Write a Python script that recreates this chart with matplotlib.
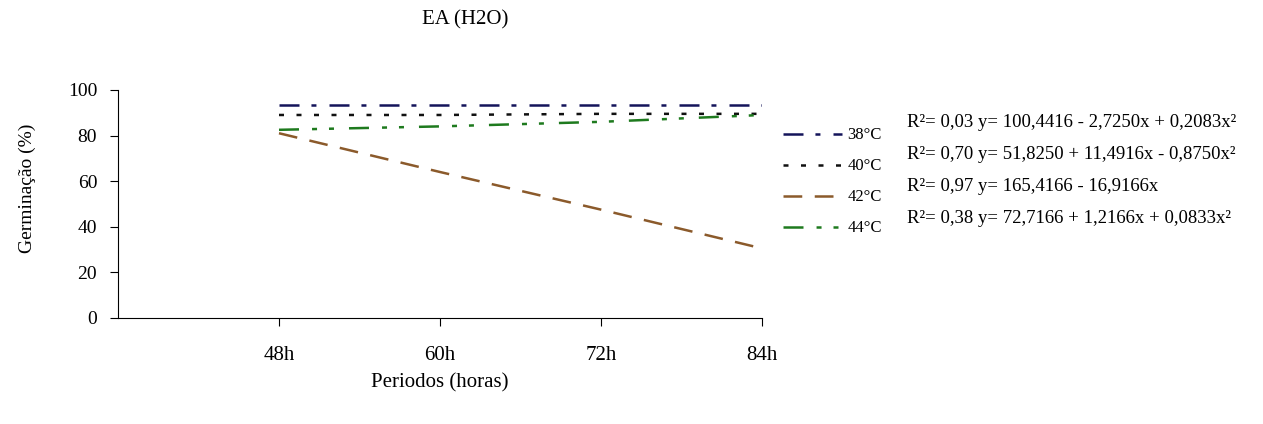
import matplotlib
matplotlib.use('Agg')
import matplotlib.pyplot as plt

# values
periods = ['48h', '60h', '72h', '84h']
series_names = ['38°C', '40°C', '42°C', '44°C']
g38 = [93.5, 93.5, 93.5, 93.5]
g40 = [89.0, 89.0, 89.5, 89.5]
g42 = [81.0, 64.0, 47.5, 30.5]
g44 = [82.5, 84.0, 86.0, 89.0]
equations = ['R\u00b2= 0,03 y= 100,4416 - 2,7250x + 0,2083x\u00b2',
             'R\u00b2= 0,70 y= 51,8250 + 11,4916x - 0,8750x\u00b2',
             'R\u00b2= 0,97 y= 165,4166 - 16,9166x',
             'R\u00b2= 0,38 y= 72,7166 + 1,2166x + 0,0833x\u00b2']

plt.rcParams['font.family'] = ['Liberation Serif', 'DejaVu Serif']
plt.rcParams['lines.scale_dashes'] = False

styles = [dict(color='#14145a', dashes=(14.4, 8.6, 3.6, 9.4)),
          dict(color='#111111', dashes=(3.6, 9.0)),
          dict(color='#8b5a2b', dashes=(13.5, 9.0)),
          dict(color='#1e7a1e', dashes=(14.4, 9.4, 3.6, 8.6, 3.6, 10.8))]

fig = plt.figure(figsize=(12.63, 4.24), dpi=100)
ax = fig.add_axes([0.0934, 0.25, 0.51, 0.538])

x = range(1, len(periods) + 1)
for vals, name, st in zip([g38, g40, g42, g44], series_names, styles):
    ax.plot(x, vals, lw=1.8, label=name, **st)

ax.set_xlim(0, 4)
ax.set_ylim(0, 100)
ax.set_xticks(list(x))
ax.set_xticklabels(periods)
ax.set_yticks(range(0, 101, 20))
ax.spines['top'].set_visible(False)
ax.spines['right'].set_visible(False)
ax.tick_params(axis='x', length=6, pad=14, labelsize=15)
ax.tick_params(axis='y', length=6, pad=9, labelsize=14)

leg = ax.legend(loc='upper left', bbox_to_anchor=(0.6137, 0.719), bbox_transform=fig.transFigure,
                frameon=False, handlelength=3.5, handletextpad=0.35, labelspacing=0.9,
                fontsize=12, borderpad=0)

for i, eq in enumerate(equations):
    fig.text(0.718, 0.712 - i * 0.0755, eq, fontsize=13.5, va='center')

fig.text(0.368, 0.953, 'EA (H2O)', fontsize=15, ha='center', va='center')
fig.text(0.348, 0.097, 'Periodos (horas)', fontsize=15, ha='center', va='center')
fig.text(0.022, 0.557, 'Germinação (%)', fontsize=14, rotation=90, ha='center', va='center')

plt.savefig('out.png', dpi=100)
